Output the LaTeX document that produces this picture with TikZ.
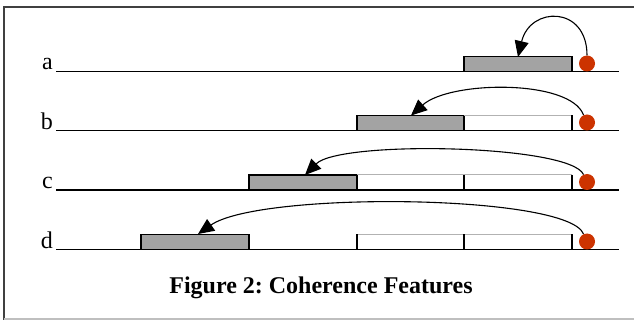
\documentclass[tikz,border=0pt]{standalone}
\usepackage{fontspec}
\setmainfont{Liberation Serif}
\usetikzlibrary{arrows.meta}
\usepackage{xcolor}
\definecolor{dotred}{RGB}{204,51,0}
\frenchspacing

\tikzset{
  track/.style={black, line width=1.4pt},
  fullcell/.style={draw=black, line width=1.1pt, fill=black!36},
  emptytop/.style={black!30, line width=1pt},
  emptyside/.style={black, line width=1.1pt},
  dot/.style={circle, fill=dotred, inner sep=0, minimum size=16pt},
  jump/.style={-{Triangle[length=16pt,width=14pt]}, line width=1.1pt},
  rowlabel/.style={anchor=base east, inner sep=0, font=\fontsize{24}{28}\selectfont},
}

\begin{document}
\begin{tikzpicture}[x=1pt,y=-1pt]
\useasboundingbox (0,0) rectangle (634,320);
% frame
\draw[black!75, line width=1.5pt] (4,320) -- (4,7) -- (634,7);
\draw[black!25, line width=1.2pt] (4,319) -- (634,319);

% row a
\node[rowlabel] (laba) at (53,69.5) {a};
\draw[track] (56,71.5) -- (619,71.5);
\draw[fullcell] (464,56.5) rectangle (572,71.5);
\node[dot] (dota) at (587,63.5) {};
\coordinate (tipa) at (518,57);
\draw[jump] (dota.north) .. controls +(0,-50) and +(12,-51) .. (tipa);

% row b
\node[rowlabel] (labb) at (53,129.5) {b};
\draw[track] (56,130.5) -- (619,130.5);
\draw[fullcell] (357,115.5) rectangle (464,130.5);
\draw[emptytop] (464,115.5) -- (572,115.5);
\draw[emptyside] (572,115.5) -- (572,130.5);
\node[dot] (dotb) at (587,122.5) {};
\coordinate (tipb) at (411,115.5);
\draw[jump] (dotb.115) .. controls +(-13,-36) and +(39,-35) .. (tipb);

% row c
\node[rowlabel] (labc) at (53,189) {c};
\draw[track] (56,190) -- (619,190);
\draw[fullcell] (249,175) rectangle (357,190);
\draw[emptytop] (357,175) -- (572,175);
\draw[emptyside] (464,175) -- (464,190);
\draw[emptyside] (572,175) -- (572,190);
\node[dot] (dotc) at (587,182) {};
\coordinate (tipc) at (305,175);
\draw[jump] (dotc.115) .. controls +(-13,-30) and +(35,-35) .. (tipc);

% row d
\node[rowlabel] (labd) at (53,248.5) {d};
\draw[track] (56,249.5) -- (619,249.5);
\draw[fullcell] (141,234.5) rectangle (249,249.5);
\draw[emptytop] (357,234.5) -- (572,234.5);
\draw[emptyside] (357,234.5) -- (357,249.5);
\draw[emptyside] (464,234.5) -- (464,249.5);
\draw[emptyside] (572,234.5) -- (572,249.5);
\node[dot] (dotd) at (587,241.5) {};
\coordinate (tipd) at (198,234);
\draw[jump] (dotd.115) .. controls +(-15,-40) and +(62,-43) .. (tipd);

\node[anchor=base, inner sep=0, font=\bfseries\fontsize{24}{28}\selectfont] (caption) at (321,293) {Figure 2: Coherence Features};
\end{tikzpicture}
\end{document}
